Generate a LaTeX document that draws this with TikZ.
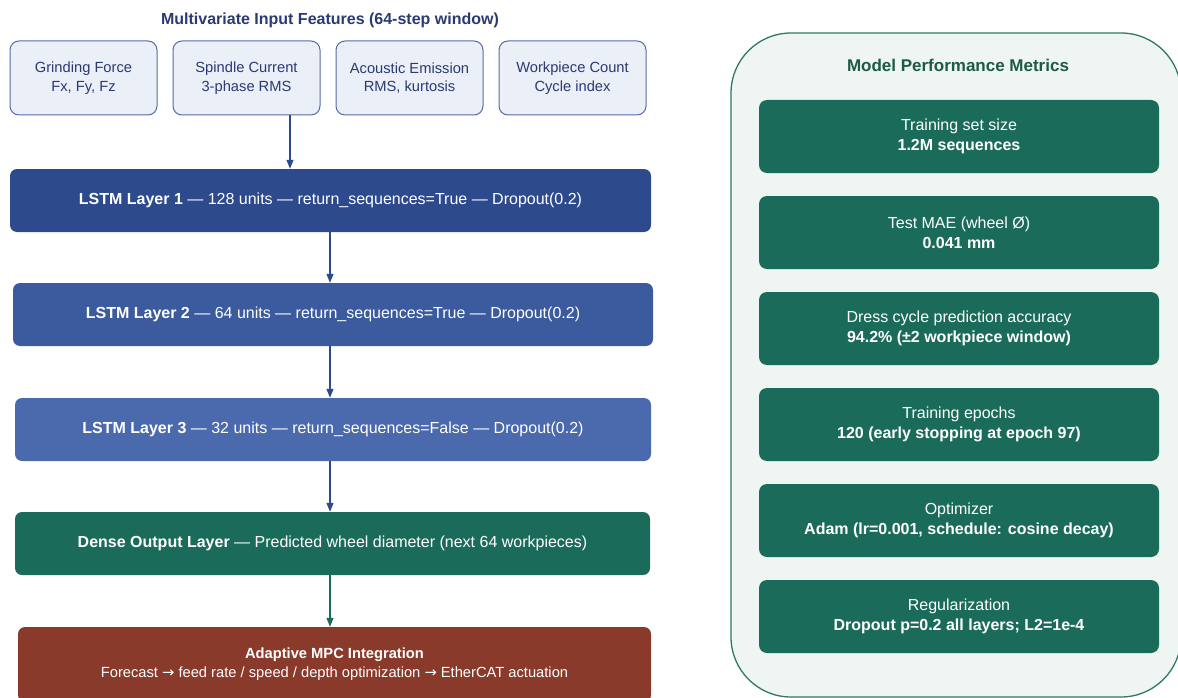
\documentclass[tikz,border=0pt]{standalone}
\usepackage{fontspec}
\setmainfont{Liberation Sans}
\newfontfamily\arrowfont{DejaVu Sans}
\usetikzlibrary{arrows.meta}
\definecolor{navytxt}{HTML}{2A3A72}
\definecolor{featedge}{HTML}{5A6AA6}
\definecolor{featfill}{HTML}{EBEFF8}
\definecolor{lstmA}{HTML}{2C4A8C}
\definecolor{lstmB}{HTML}{3B5B9E}
\definecolor{lstmC}{HTML}{4B6AAE}
\definecolor{densegreen}{HTML}{1B6B5A}
\definecolor{mpcred}{HTML}{8A3A2A}
\definecolor{panedge}{HTML}{2E7A64}
\definecolor{panfill}{HTML}{EEF5F2}
\definecolor{pantxt}{HTML}{1E5A48}
\newcommand{\fwd}{{\arrowfont →}}
\begin{document}
\begin{tikzpicture}[x=1pt,y=-1pt,
    feature/.style={draw=featedge, fill=featfill, line width=1pt, rounded corners=9pt,
      minimum width=147pt, minimum height=74pt, align=center, text=navytxt,
      font=\fontsize{14.7}{18.5}\selectfont},
    layer/.style={rounded corners=7pt, minimum height=63pt, align=center, text=white,
      font=\fontsize{16}{19}\selectfont},
    metric/.style={fill=densegreen, rounded corners=8pt, minimum width=400pt,
      minimum height=73pt, align=center, text=white, font=\fontsize{16}{20}\selectfont},
    flow/.style={-{Triangle[length=9pt,width=7pt]}, line width=1.2pt, draw=lstmA}]
  \useasboundingbox (0,0) rectangle (1178,698);
  \clip (0,0) rectangle (1178,698);

  % input features
  \node[font=\fontsize{16}{19}\selectfont\bfseries, text=navytxt] (intitle) at (330,20)
    {Multivariate Input Features (64-step window)};
  \node[feature] (in1) at (83.5,78) {Grinding Force\\Fx, Fy, Fz};
  \node[feature] (in2) at (246.5,78) {Spindle Current\\3-phase RMS};
  \node[feature] (in3) at (409.5,78) {Acoustic Emission\\RMS, kurtosis};
  \node[feature] (in4) at (572.5,78) {Workpiece Count\\Cycle index};

  % network stack
  \node[layer, fill=lstmA, minimum width=641pt] (lstm1) at (330.5,200.5)
    {\textbf{LSTM Layer 1} — 128 units — return\_sequences=True — Dropout(0.2)};
  \node[layer, fill=lstmB, minimum width=640pt] (lstm2) at (333,314.5)
    {\textbf{LSTM Layer 2} — 64 units — return\_sequences=True — Dropout(0.2)};
  \node[layer, fill=lstmC, minimum width=636pt] (lstm3) at (333,429.5)
    {\textbf{LSTM Layer 3} — 32 units — return\_sequences=False — Dropout(0.2)};
  \node[layer, fill=densegreen, minimum width=635pt] (dense) at (332.5,543.5)
    {\textbf{Dense Output Layer} — Predicted wheel diameter (next 64 workpieces)};
  \node[layer, fill=mpcred, minimum width=633pt, minimum height=75pt,
    font=\fontsize{14.7}{19}\selectfont] (mpc) at (334.5,664.5)
    {\textbf{Adaptive MPC Integration}\\Forecast \fwd{} feed rate / speed / depth optimization \fwd{} EtherCAT actuation};

  \coordinate (tap) at (290,0);
  \coordinate (spine) at (330,0);
  \draw[flow] (in2.south -| tap) -- (lstm1.north -| tap);
  \draw[flow] (lstm1.south -| spine) -- (lstm2.north -| spine);
  \draw[flow] (lstm2.south -| spine) -- (lstm3.north -| spine);
  \draw[flow] (lstm3.south -| spine) -- (dense.north -| spine);
  \draw[flow, draw=densegreen] (dense.south -| spine) -- (mpc.north -| spine);

  % metrics panel
  \draw[draw=panedge, fill=panfill, line width=1.3pt, rounded corners=60pt]
    (731,33) rectangle (1181,697);
  \node[font=\fontsize{17}{20}\selectfont\bfseries, text=pantxt] (mtitle) at (958,65)
    {Model Performance Metrics};
  \node[metric] (m1) at (959,136.5) {Training set size\\\textbf{1.2M sequences}};
  \node[metric] (m2) at (959,232.5) {Test MAE (wheel Ø)\\\textbf{0.041 mm}};
  \node[metric] (m3) at (959,328.5) {Dress cycle prediction accuracy\\\textbf{94.2\% (±2 workpiece window)}};
  \node[metric] (m4) at (959,424.5) {Training epochs\\\textbf{120 (early stopping at epoch 97)}};
  \node[metric] (m5) at (959,520.5) {Optimizer\\\textbf{Adam (lr=0.001, schedule: cosine decay)}};
  \node[metric] (m6) at (959,616.5) {Regularization\\\textbf{Dropout p=0.2 all layers; L2=1e-4}};
\end{tikzpicture}
\end{document}
